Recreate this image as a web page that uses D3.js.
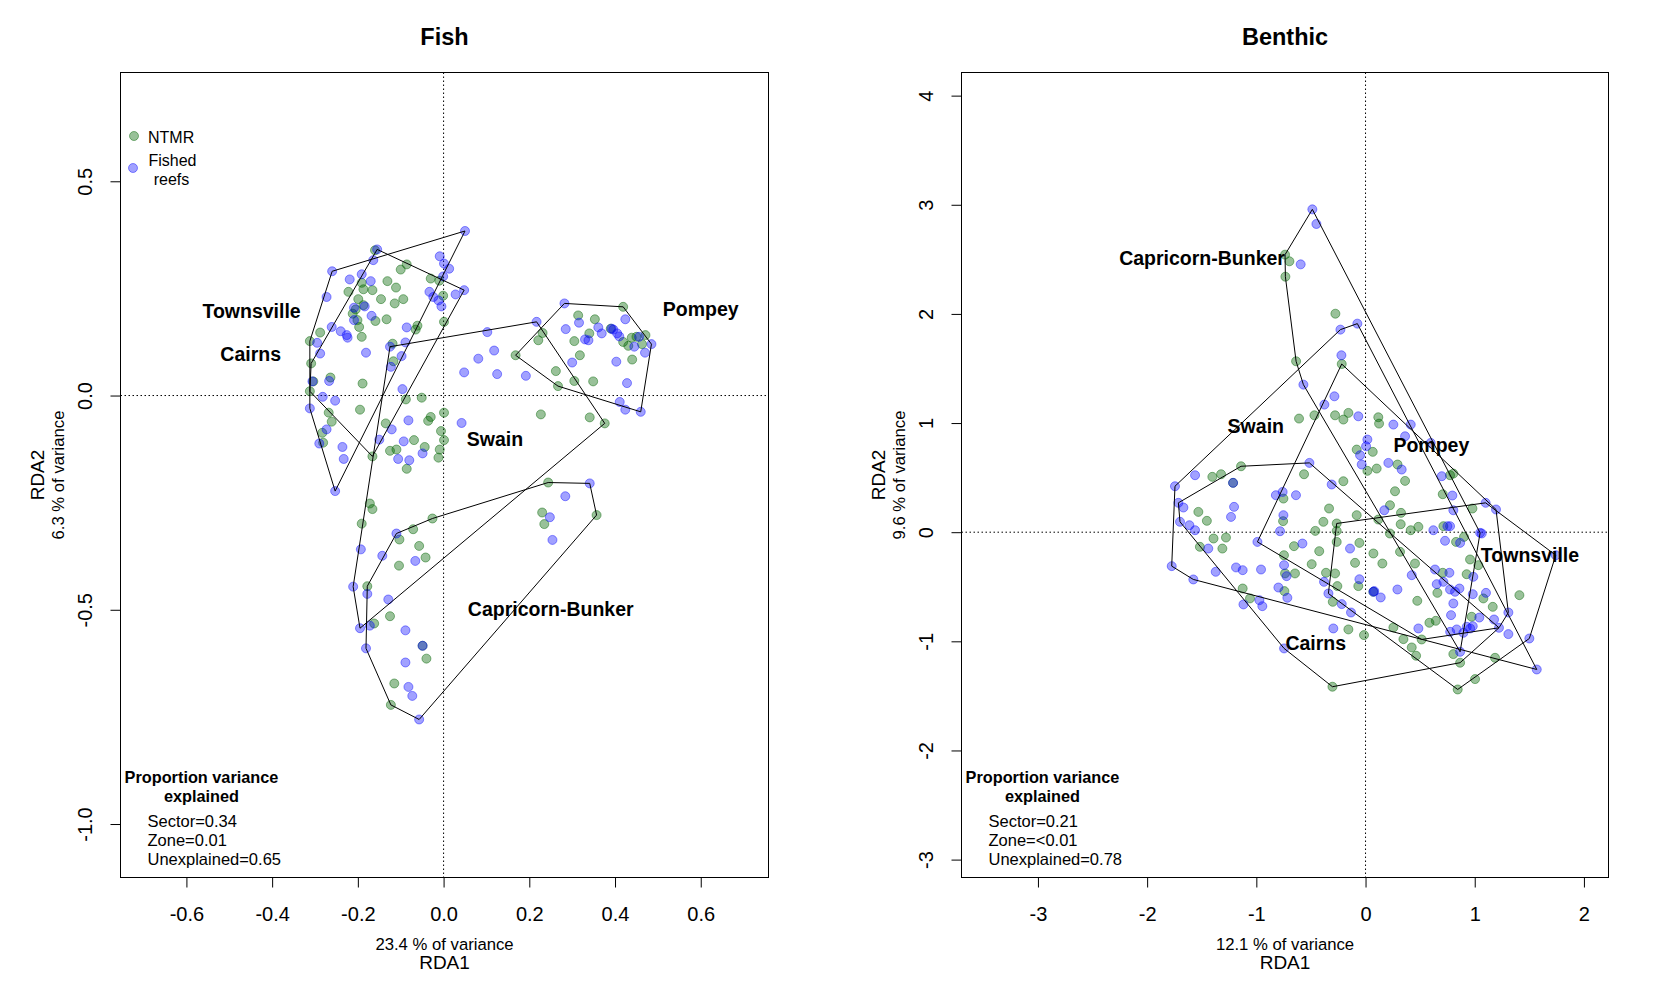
<!DOCTYPE html>
<html>
<head>
<meta charset="utf-8">
<script src="https://cdnjs.cloudflare.com/ajax/libs/d3/7.8.5/d3.min.js"></script>
<style>
  body { margin: 0; background: #fff; }
  svg { font-family: "Liberation Sans", Arial, sans-serif; }
</style>
</head>
<body>
<svg id="chart" width="1680" height="998"></svg>
<script>
// ---------- Fish panel data (RDA1, RDA2) ----------
var fishNTMR = [
  [-0.160,0.339],[-0.086,0.306],[-0.100,0.294],[-0.030,0.273],[-0.010,0.268],[-0.191,0.263],[-0.187,0.248],
  [-0.166,0.246],[-0.131,0.267],[-0.111,0.252],[-0.222,0.242],[-0.199,0.225],[-0.146,0.225],[-0.114,0.215],
  [-0.094,0.225],[-0.187,0.211],[-0.212,0.191],[-0.201,0.176],[-0.159,0.174],[-0.133,0.178],[-0.197,0.160],
  [-0.061,0.163],[-0.065,0.154],[-0.288,0.147],[-0.312,0.127],[-0.191,0.137],[-0.001,0.233],[0.001,0.172],
  [-0.119,0.121],[-0.117,0.080],[-0.264,0.042],[-0.309,0.075],[-0.189,0.028],[-0.312,0.010],[-0.051,-0.005],
  [-0.088,-0.009],[-0.195,-0.033],[-0.268,-0.040],[-0.261,-0.061],[-0.283,-0.087],[-0.281,-0.110],[-0.135,-0.065],
  [-0.030,-0.050],[-0.036,-0.059],[0.001,-0.040],[-0.006,-0.083],[0.001,-0.104],[-0.069,-0.104],[-0.110,-0.126],
  [-0.125,-0.129],[-0.044,-0.120],[-0.009,-0.126],[-0.012,-0.145],[-0.086,-0.171],[-0.166,-0.142],[0.168,0.094],
  [-0.205,0.201],[-0.304,0.033],
  [0.419,0.207],[0.314,0.187],[0.353,0.178],[0.231,0.146],[0.221,0.129],[0.305,0.127],[0.340,0.145],[0.390,0.156],
  [0.419,0.125],[0.431,0.116],[0.439,0.135],[0.450,0.137],[0.463,0.120],[0.471,0.141],[0.318,0.094],[0.440,0.084],
  [0.262,0.057],[0.305,0.034],[0.349,0.033],[0.267,0.022],[0.227,-0.044],[0.341,-0.051],[0.376,-0.065],
  [-0.172,-0.252],[-0.166,-0.265],[-0.191,-0.299],[-0.026,-0.287],[-0.071,-0.312],[-0.103,-0.336],[-0.057,-0.351],
  [-0.042,-0.378],[-0.104,-0.397],[-0.178,-0.445],[-0.162,-0.532],[-0.125,-0.515],[-0.040,-0.614],[-0.115,-0.672],
  [-0.123,-0.722],[0.244,-0.203],[0.230,-0.273],[0.235,-0.300],[0.357,-0.279],[-0.049,-0.584]
];
var fishFished = [
  [0.050,0.384],[-0.155,0.341],[-0.260,0.290],[-0.164,0.316],[-0.191,0.283],[-0.219,0.271],[-0.170,0.267],
  [-0.273,0.230],[-0.261,0.160],[-0.240,0.150],[-0.226,0.141],[-0.224,0.135],[-0.288,0.098],[-0.295,0.123],
  [-0.306,0.033],[-0.282,-0.003],[-0.253,-0.012],[-0.312,-0.030],[-0.273,-0.079],[-0.236,-0.120],[-0.233,-0.148],
  [-0.290,-0.112],[-0.253,-0.223],[-0.181,0.100],[-0.209,0.205],[-0.184,0.208],[-0.168,0.186],[-0.209,0.176],
  [-0.086,0.159],[-0.089,0.124],[-0.125,0.114],[-0.123,0.067],[-0.098,0.092],[-0.096,0.015],[-0.082,-0.058],
  [-0.121,-0.079],[-0.150,-0.103],[-0.093,-0.107],[-0.106,-0.148],[-0.080,-0.151],[-0.049,-0.135],[0.042,-0.064],
  [-0.009,0.325],[0.001,0.308],[0.013,0.296],[-0.001,0.278],[0.048,0.246],[0.028,0.236],[-0.033,0.242],
  [-0.024,0.230],[-0.012,0.222],[-0.005,0.208],[0.102,0.148],[0.118,0.105],[0.081,0.086],[0.048,0.054],
  [0.125,0.050],[0.192,0.046],[-0.267,0.034],
  [0.217,0.172],[0.282,0.215],[0.316,0.170],[0.285,0.155],[0.361,0.159],[0.369,0.145],[0.392,0.156],[0.396,0.154],
  [0.405,0.145],[0.410,0.138],[0.424,0.178],[0.330,0.131],[0.338,0.129],[0.456,0.137],[0.445,0.114],[0.485,0.120],
  [0.470,0.100],[0.403,0.079],[0.300,0.077],[0.428,0.029],[0.411,-0.015],[0.424,-0.033],[0.460,-0.038],
  [-0.110,-0.322],[-0.193,-0.359],[-0.143,-0.374],[-0.066,-0.386],[-0.211,-0.446],[-0.178,-0.463],[-0.129,-0.476],
  [-0.195,-0.543],[-0.172,-0.537],[-0.089,-0.548],[-0.049,-0.584],[-0.181,-0.590],[-0.089,-0.623],[-0.082,-0.680],
  [-0.073,-0.701],[-0.057,-0.756],[0.341,-0.205],[0.284,-0.235],[0.248,-0.284],[0.254,-0.337]
];
// sector hulls (vertices)
var fishHullTownsville = [[-0.260,0.290],[0.050,0.384],[-0.253,-0.223],[-0.312,-0.030],[-0.312,0.127]];
var fishHullCairns = [[-0.155,0.341],[0.048,0.246],[-0.166,-0.142],[-0.312,0.010],[-0.309,0.075]];
var fishHullPompey = [[0.282,0.215],[0.419,0.207],[0.485,0.120],[0.460,-0.038],[0.267,0.022],[0.168,0.094]];
var fishHullSwain = [[-0.125,0.114],[0.217,0.172],[0.376,-0.065],[-0.195,-0.543],[-0.211,-0.446]];
var fishHullCapricorn = [[-0.110,-0.322],[-0.026,-0.287],[0.244,-0.203],[0.341,-0.205],[0.357,-0.279],
  [-0.057,-0.756],[-0.123,-0.722],[-0.181,-0.590],[-0.178,-0.445]];
var fishLabels = [["Townsville",-0.448,0.198],["Cairns",-0.450,0.098],["Pompey",0.600,0.203],
  ["Swain",0.120,-0.102],["Capricorn-Bunker",0.250,-0.497]];
var fishVariance = ["Sector=0.34","Zone=0.01","Unexplained=0.65"];
var fishXTicks = [-0.6,-0.4,-0.2,0.0,0.2,0.4,0.6];
var fishYTicks = [-1.0,-0.5,0.0,0.5];

// ---------- Benthic panel data ----------
var benthicNTMR = [
  [-0.737,2.543],[-0.697,2.482],[-0.734,2.341],[-0.276,2.002],[-0.636,1.566],[-0.218,1.541],[-0.609,1.041],
  [-0.468,1.071],[-0.279,1.071],[-0.203,1.032],[-0.157,1.093],[0.117,1.053],[0.124,0.995],
  [-1.140,0.604],[-1.403,0.507],[-1.323,0.531],[-1.531,0.186],[-1.453,0.104],[-1.392,-0.058],[-1.278,-0.049],
  [-1.517,-0.134],[-1.311,-0.150],[-0.752,0.308],[-0.755,0.101],[-0.747,-0.211],[-1.213,0.452],
  [-1.125,-0.516],[-1.058,-0.607],[-0.737,-0.378],[-0.743,-0.540],
  [-0.493,-0.293],[-0.646,-0.378],[-0.362,-0.372],[-0.279,-0.378],[-0.258,-0.494],[-0.096,-0.281],[-0.066,-0.494],
  [0.154,-0.287],[-0.300,-0.638],[-0.157,-0.891],[-0.014,-0.943],[0.255,-0.873],[0.347,-0.980],[0.423,-1.056],
  [0.463,-1.132],[0.474,-0.629],[-0.303,-1.416],[0.453,-0.287],[0.072,-0.546],
  [-0.081,0.757],[0.066,0.736],[0.017,0.562],[0.102,0.583],[0.293,0.620],[0.362,0.470],[-0.203,0.467],
  [-0.563,0.531],[0.270,0.375],[-0.334,0.217],[0.224,0.247],[0.325,0.177],[-0.081,0.156],[0.117,0.116],
  [-0.386,0.095],[-0.460,0.012],[-0.264,0.012],[0.322,0.073],[0.223,-0.012],[0.414,0.018],[-0.056,-0.098],
  [-0.264,-0.089],[-0.424,-0.174],[-0.655,-0.128],[0.072,-0.195],[0.316,-0.180],[0.484,0.049],[-0.264,0.080],
  [0.804,0.537],[0.774,0.522],[0.707,0.348],[0.979,0.217],[0.713,0.055],[0.902,-0.043],[0.829,-0.089],[0.957,-0.250],
  [0.707,-0.372],[0.926,-0.385],[1.033,-0.302],[0.658,-0.556],[1.079,-0.607],[1.409,-0.577],[1.165,-0.684],
  [0.972,-0.775],[0.643,-0.812],[0.585,-0.830],[0.514,-0.983],[0.804,-1.117],[0.866,-1.196],[1.186,-1.151],
  [1.003,-1.346],[0.844,-1.441]
];
var benthicFished = [
  [-0.487,2.958],[-0.450,2.824],[-0.594,2.454],[-0.230,1.856],[-0.075,1.911],[-0.221,1.621],[-0.569,1.352],
  [-0.285,1.245],[-0.377,1.169],[-0.066,1.062],[0.255,0.986],[0.414,0.986],
  [-1.745,0.421],[-1.561,0.522],[-1.714,0.269],[-1.668,0.226],[-1.699,0.095],[-1.613,0.064],[-1.561,0.018],
  [-1.204,0.232],[-1.232,0.140],[-1.440,-0.150],[-0.990,-0.089],[-0.821,0.339],[-0.759,0.369],[-0.752,0.156],
  [-0.783,0.009],[-1.213,0.452],
  [-1.775,-0.311],[-1.577,-0.433],[-1.372,-0.363],[-1.186,-0.323],[-1.125,-0.348],[-0.957,-0.342],[-0.746,-0.302],
  [-0.798,-0.507],[-0.716,-0.601],[-0.972,-0.623],[-0.945,-0.678],[-1.118,-0.662],[-0.746,-1.065],[-0.723,-0.403],
  [-0.380,-0.455],[-0.340,-0.562],[-0.218,-0.659],[-0.133,-0.736],[-0.056,-0.431],[0.072,-0.546],[0.080,-0.540],
  [0.139,-0.598],[0.292,-0.525],[0.423,-0.394],[-0.295,-0.882],[0.484,-0.882],
  [-0.514,0.635],[-0.310,0.437],[-0.637,0.339],[0.017,0.849],[0.005,0.787],[-0.050,0.705],[-0.035,0.620],
  [0.362,0.879],[0.209,0.635],[0.331,0.574],[0.172,0.201],[-0.578,-0.104],[-0.142,-0.150],
  [0.597,0.818],[0.698,0.513],[0.795,0.336],[0.804,0.201],[1.100,0.269],[1.195,0.208],[0.621,0.018],
  [0.774,0.055],[0.750,0.055],[1.049,-0.006],[1.064,-0.012],[0.728,-0.079],[0.866,-0.098],
  [0.636,-0.342],[0.768,-0.372],[0.713,-0.455],[0.652,-0.476],[0.774,-0.525],[0.820,-0.546],[0.860,-0.516],
  [0.987,-0.409],[0.804,-0.653],[0.982,-0.568],[1.103,-0.556],[0.783,-0.760],[1.042,-0.782],[1.177,-0.800],
  [1.308,-0.736],[1.222,-0.876],[1.308,-0.934],[0.927,-0.867],[0.958,-0.882],[0.982,-0.861],[0.775,-0.913],
  [0.835,-0.891],[0.896,-0.922],[0.866,-1.096],[1.500,-0.974],[1.568,-1.258],[1.742,-0.211]
];
var benthicHullCapricorn = [[-0.487,2.958],[-0.737,2.543],[-0.734,2.341],[-0.636,1.566],[-0.569,1.352],
  [0.866,-1.096],[1.049,-0.006]];
var benthicHullSwain = [[-1.745,0.421],[-0.230,1.856],[-0.075,1.911],[1.568,-1.258],[-1.577,-0.433],[-1.775,-0.311]];
var benthicHullPompey = [[-0.218,1.541],[1.195,0.208],[1.308,-0.736],[1.222,-0.876],[0.514,-0.983],[-0.990,-0.089]];
var benthicHullTownsville = [[-0.264,0.080],[1.100,0.269],[1.742,-0.211],[1.500,-0.974],[0.844,-1.441],[-0.340,-0.562]];
var benthicHullCairns = [[-1.714,0.269],[-1.140,0.604],[-0.514,0.635],[1.222,-0.876],[0.866,-1.196],
  [-0.303,-1.416],[-0.746,-1.065],[-1.699,0.095]];
var benthicLabels = [["Capricorn-Bunker",-1.497,2.509],["Swain",-1.005,0.976],["Pompey",0.603,0.800],
  ["Townsville",1.506,-0.211],["Cairns",-0.456,-1.016]];
var benthicVariance = ["Sector=0.21","Zone=<0.01","Unexplained=0.78"];
var benthicXTicks = [-3,-2,-1,0,1,2];
var benthicYTicks = [-3,-2,-1,0,1,2,3,4];

var svg = d3.select("#chart");
var greenFill = "rgba(0,100,0,0.4)", greenLine = "rgba(0,100,0,0.45)";
var blueFill = "rgba(0,0,255,0.37)", blueLine = "rgba(0,0,255,0.42)";

function drawPanel(p) {
  var x = d3.scaleLinear().domain(p.xDomain).range([p.left, p.right]);
  var y = d3.scaleLinear().domain(p.yDomain).range([p.bottom, p.top]);
  var g = svg.append("g");
  var cx = (p.left + p.right) / 2, cy = (p.top + p.bottom) / 2;

  // zero lines
  g.append("line").attr("x1", p.left).attr("x2", p.right).attr("y1", y(0)).attr("y2", y(0))
    .attr("stroke", "#000").attr("stroke-dasharray", "1.5,2.5");
  g.append("line").attr("x1", x(0)).attr("x2", x(0)).attr("y1", p.top).attr("y2", p.bottom)
    .attr("stroke", "#000").attr("stroke-dasharray", "1.5,2.5");

  // points
  g.selectAll("circle.ntmr").data(p.ntmr).join("circle").attr("class", "ntmr")
    .attr("cx", d => x(d[0])).attr("cy", d => y(d[1])).attr("r", 4.5)
    .attr("fill", greenFill).attr("stroke", greenLine);
  g.selectAll("circle.fished").data(p.fished).join("circle").attr("class", "fished")
    .attr("cx", d => x(d[0])).attr("cy", d => y(d[1])).attr("r", 4.5)
    .attr("fill", blueFill).attr("stroke", blueLine);

  // hulls
  var line = d3.line().x(d => x(d[0])).y(d => y(d[1]));
  g.selectAll("path.hull").data(p.hulls).join("path").attr("class", "hull")
    .attr("d", d => line(d) + "Z").attr("fill", "none").attr("stroke", "#000").attr("stroke-width", 1);

  // sector labels
  g.selectAll("text.sector").data(p.labels).join("text").attr("class", "sector")
    .attr("x", d => x(d[1])).attr("y", d => y(d[2])).attr("dy", "0.36em")
    .attr("text-anchor", "middle").attr("font-weight", "bold").attr("font-size", 19.5).text(d => d[0]);

  // box
  g.append("rect").attr("x", p.left).attr("y", p.top).attr("width", p.right - p.left)
    .attr("height", p.bottom - p.top).attr("fill", "none").attr("stroke", "#000");

  // axes
  var xa = g.append("g").attr("transform", `translate(0,${p.bottom})`)
    .call(d3.axisBottom(x).tickValues(p.xTicks).tickSize(10).tickFormat(p.fmt));
  xa.select(".domain").remove();
  xa.selectAll("text").attr("y", 43.5).attr("dy", 0).attr("font-size", 20).attr("fill", "#000")
    .attr("font-family", "Liberation Sans, Arial, sans-serif");

  var ya = g.append("g").attr("transform", `translate(${p.left},0)`)
    .call(d3.axisLeft(y).tickValues(p.yTicks).tickSize(10).tickFormat(p.fmt));
  ya.select(".domain").remove();
  ya.selectAll("text").attr("transform", "rotate(-90)").attr("x", 0).attr("y", -29).attr("dy", 0)
    .attr("text-anchor", "middle").attr("font-size", 20).attr("fill", "#000")
    .attr("font-family", "Liberation Sans, Arial, sans-serif");

  // titles
  g.append("text").attr("x", cx).attr("y", 44.5).attr("text-anchor", "middle")
    .attr("font-weight", "bold").attr("font-size", 23.5).text(p.title);
  g.append("text").attr("x", cx).attr("y", 950).attr("text-anchor", "middle")
    .attr("font-size", 16.7).text(p.xVar);
  g.append("text").attr("x", cx).attr("y", 969).attr("text-anchor", "middle")
    .attr("font-size", 19).text("RDA1");
  g.append("text").attr("transform", `translate(${p.left - 76.5},${cy}) rotate(-90)`)
    .attr("text-anchor", "middle").attr("font-size", 19).text("RDA2");
  g.append("text").attr("transform", `translate(${p.left - 57},${cy}) rotate(-90)`)
    .attr("text-anchor", "middle").attr("font-size", 16.7).text(p.yVar);

  // variance explained
  g.append("text").attr("x", p.left + 81).attr("y", 783).attr("text-anchor", "middle")
    .attr("font-weight", "bold").attr("font-size", 16.3).text("Proportion variance");
  g.append("text").attr("x", p.left + 81).attr("y", 802).attr("text-anchor", "middle")
    .attr("font-weight", "bold").attr("font-size", 16.3).text("explained");
  g.selectAll("text.var").data(p.variance).join("text").attr("class", "var")
    .attr("x", p.left + 27).attr("y", (d, i) => 827 + i * 19).attr("font-size", 16.5).text(d => d);

  return { x: x, y: y, g: g };
}

drawPanel({
  left: 120.5, right: 768.5, top: 72.5, bottom: 877.5,
  xDomain: [-0.7538, 0.7581], yDomain: [-1.1248, 0.7539],
  xTicks: fishXTicks, yTicks: fishYTicks, fmt: d => d.toFixed(1),
  ntmr: fishNTMR, fished: fishFished,
  hulls: [fishHullTownsville, fishHullCairns, fishHullPompey, fishHullSwain, fishHullCapricorn],
  labels: fishLabels, variance: fishVariance,
  title: "Fish", xVar: "23.4 % of variance", yVar: "6.3 % of variance"
});

drawPanel({
  left: 961.5, right: 1608.5, top: 72.5, bottom: 877.5,
  xDomain: [-3.700, 2.225], yDomain: [-3.164, 4.212],
  xTicks: benthicXTicks, yTicks: benthicYTicks, fmt: d => String(d),
  ntmr: benthicNTMR, fished: benthicFished,
  hulls: [benthicHullCapricorn, benthicHullSwain, benthicHullPompey, benthicHullTownsville, benthicHullCairns],
  labels: benthicLabels, variance: benthicVariance,
  title: "Benthic", xVar: "12.1 % of variance", yVar: "9.6 % of variance"
});

// legend (fish panel)
var legend = svg.append("g");
legend.append("circle").attr("cx", 134).attr("cy", 136).attr("r", 4.5).attr("fill", greenFill).attr("stroke", greenLine);
legend.append("circle").attr("cx", 133).attr("cy", 168).attr("r", 4.5).attr("fill", blueFill).attr("stroke", blueLine);
legend.append("text").attr("x", 148).attr("y", 142.5).attr("font-size", 16).text("NTMR");
legend.append("text").attr("x", 172.5).attr("y", 166).attr("text-anchor", "middle").attr("font-size", 16).text("Fished");
legend.append("text").attr("x", 171.5).attr("y", 184.5).attr("text-anchor", "middle").attr("font-size", 16).text("reefs");
</script>
</body>
</html>
